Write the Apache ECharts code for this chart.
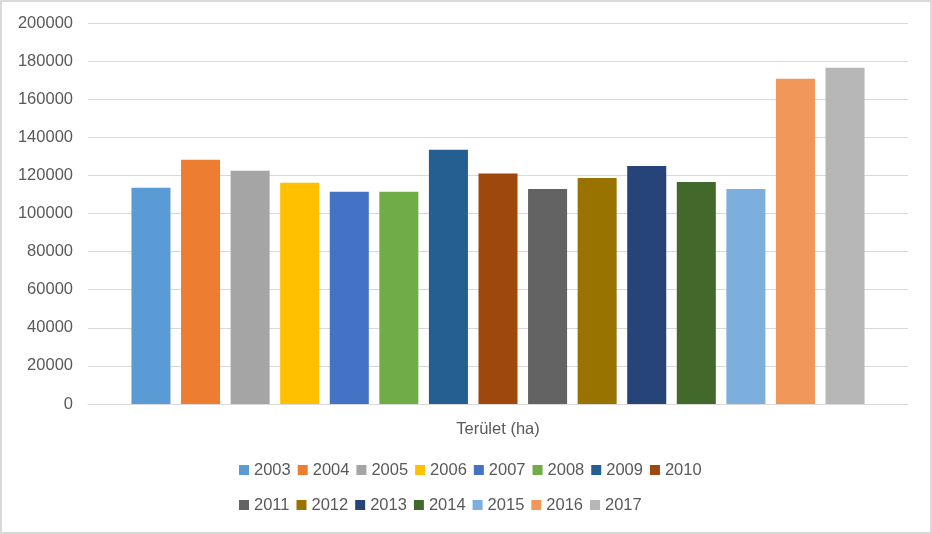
<!DOCTYPE html>
<html>
<head>
<meta charset="utf-8">
<script src="https://cdn.jsdelivr.net/npm/echarts@6/dist/echarts.min.js"></script>
<style>
  html, body { margin: 0; padding: 0; background: #fff; }
  #chart { width: 932px; height: 534px; box-sizing: border-box; border: 2px solid #d9d9d9; }
</style>
</head>
<body>
<div id="chart"></div>
<script>
// Terület (ha) évenként
const categories = ['Terület (ha)']
const years = ['2003', '2004', '2005', '2006', '2007', '2008', '2009', '2010',
  '2011', '2012', '2013', '2014', '2015', '2016', '2017']
const areaValues = [113500, 128200, 122400, 116100, 111400, 111400, 133400, 121000,
  112900, 118700, 125000, 116600, 112900, 170700, 176500]
const yearColors = ['#5B9BD5', '#ED7D31', '#A5A5A5', '#FFC000', '#4472C4', '#70AD47', '#255E91', '#9E480E',
  '#636363', '#997300', '#264478', '#43682B', '#7CAFDD', '#F1975A', '#B7B7B7']
const yTicks = { min: 0, max: 200000, interval: 20000 }

const font = 'Liberation Sans'
const textColor = '#595959'

const chart = echarts.init(document.getElementById('chart'))

const series = years.map((year, i) => ({
  name: year,
  type: 'bar',
  data: [areaValues[i]],
  barGap: '27%',
  barCategoryGap: '10.6%',
  itemStyle: { color: yearColors[i] }
}))

chart.setOption({
  animation: false,
  textStyle: { fontFamily: font },
  grid: { left: 86, right: 22, top: 21, bottom: 128 },
  xAxis: {
    type: 'category',
    data: categories,
    axisLine: { lineStyle: { color: '#d9d9d9' } },
    axisTick: { show: false },
    axisLabel: { color: textColor, fontSize: 16.5, fontFamily: font, margin: 17 }
  },
  yAxis: {
    type: 'value',
    min: yTicks.min,
    max: yTicks.max,
    interval: yTicks.interval,
    axisLine: { show: false },
    axisTick: { show: false },
    axisLabel: {
      color: textColor, fontSize: 16.5, fontFamily: font, margin: 15,
      formatter: v => String(v) // nincs ezres elválasztó
    },
    splitLine: { lineStyle: { color: '#d9d9d9' } }
  },
  legend: {
    data: years,
    left: 237,
    top: 454,
    width: 475,
    padding: 0,
    itemWidth: 10,
    itemHeight: 10,
    itemGap: 7,
    icon: 'rect',
    textStyle: { color: textColor, fontSize: 16.5, fontFamily: font, lineHeight: 28 }
  },
  series: series
})
</script>
</body>
</html>
